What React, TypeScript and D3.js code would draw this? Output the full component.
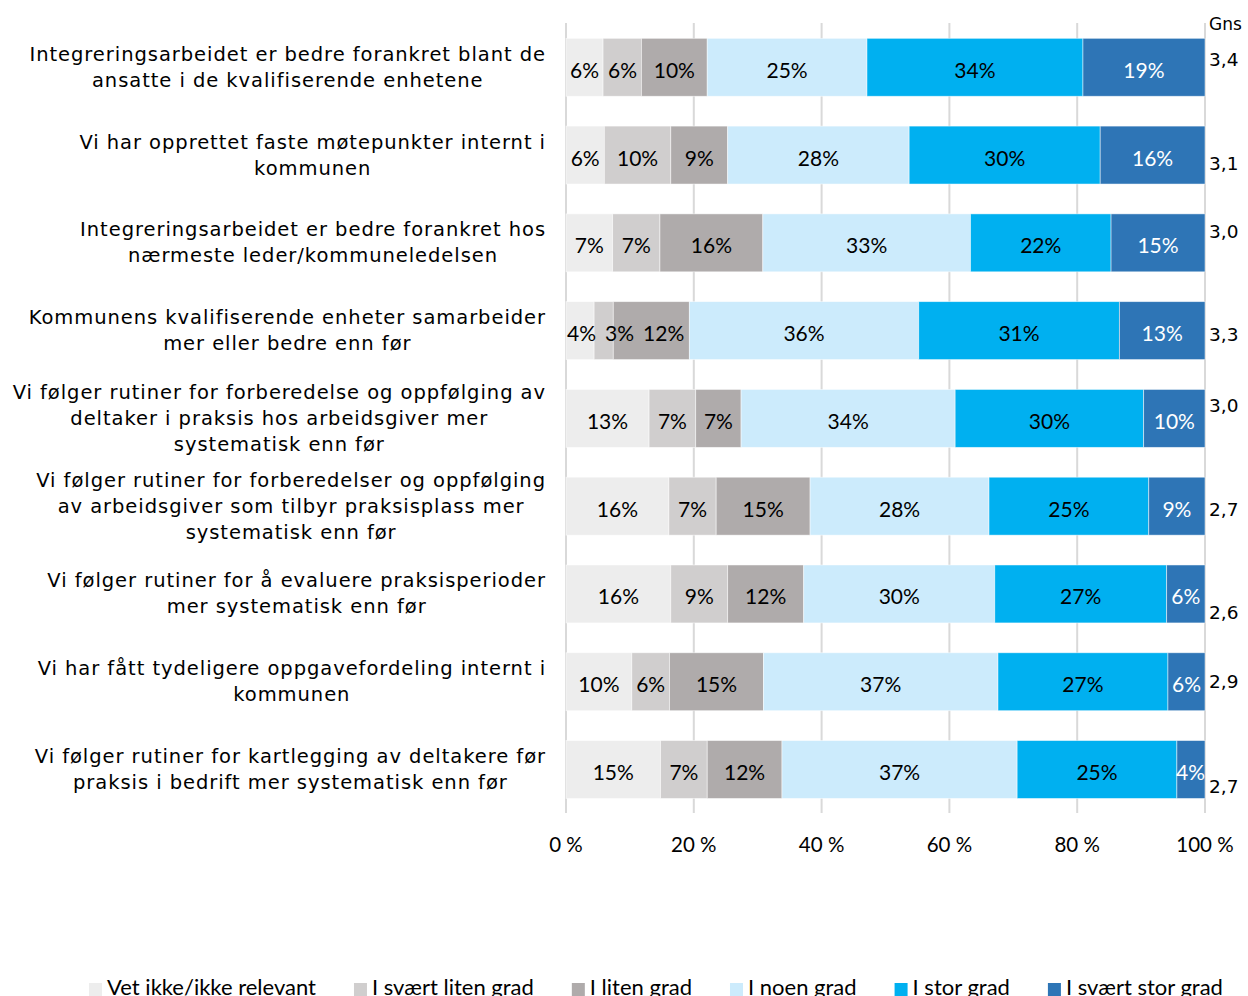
import React, { useEffect, useRef } from "react";
import * as d3 from "d3";

const categories: string[][] = [
  ["Integreringsarbeidet er bedre forankret blant de", "ansatte i de kvalifiserende enhetene"],
  ["Vi har opprettet faste møtepunkter internt i", "kommunen"],
  ["Integreringsarbeidet er bedre forankret hos", "nærmeste leder/kommuneledelsen"],
  ["Kommunens kvalifiserende enheter samarbeider", "mer eller bedre enn før"],
  ["Vi følger rutiner for forberedelse og oppfølging av", "deltaker i praksis hos arbeidsgiver mer", "systematisk enn før"],
  ["Vi følger rutiner for forberedelser og oppfølging", "av arbeidsgiver som tilbyr praksisplass mer", "systematisk enn før"],
  ["Vi følger rutiner for å evaluere praksisperioder", "mer systematisk enn før"],
  ["Vi har fått tydeligere oppgavefordeling internt i", "kommunen"],
  ["Vi følger rutiner for kartlegging av deltakere før", "praksis i bedrift mer systematisk enn før"],
];

const seriesNames = [
  "Vet ikke/ikke relevant",
  "I svært liten grad",
  "I liten grad",
  "I noen grad",
  "I stor grad",
  "I svært stor grad",
];

const vetIkke = [5.8, 6.0, 7.3, 4.4, 13.0, 16.1, 16.4, 10.3, 14.8];
const svaertLiten = [6.0, 10.4, 7.4, 3.0, 7.3, 7.4, 8.9, 5.9, 7.3];
const liten = [10.3, 8.9, 16.1, 11.9, 7.1, 14.7, 11.9, 14.7, 11.7];
const noen = [25.0, 28.4, 32.5, 35.9, 33.5, 28.0, 29.9, 36.7, 36.8];
const stor = [33.8, 29.9, 22.0, 31.4, 29.5, 25.0, 26.9, 26.6, 25.0];
const svaertStor = [19.1, 16.4, 14.7, 13.4, 9.6, 8.8, 6.0, 5.8, 4.4];

const gns = ["3,4", "3,1", "3,0", "3,3", "3,0", "2,7", "2,6", "2,9", "2,7"];
const gnsLabelShift = [-8, 8, -11, 4, -13, 3, 19, 0, 17];

const tickValues = [0, 20, 40, 60, 80, 100];

const colors = ["#EDEDED", "#D0CECE", "#AFABAB", "#CCEBFC", "#00B0F0", "#2E75B6"];
const labelColors = ["#000", "#000", "#000", "#000", "#000", "#fff"];

const W = 1248;
const H = 996;

export default function App() {
  const ref = useRef<SVGSVGElement | null>(null);

  useEffect(() => {
    const svg = d3.select(ref.current);
    svg.selectAll("*").remove();

    const seriesArrays = [vetIkke, svaertLiten, liten, noen, stor, svaertStor];
    const keys = seriesNames;
    const table = categories.map((_, i) => {
      const row: Record<string, number> = { idx: i };
      keys.forEach((k, s) => (row[k] = seriesArrays[s][i]));
      return row;
    });
    const stacked = d3.stack<Record<string, number>>().keys(keys)(table);

    const x = d3.scaleLinear().domain([0, 100]).range([566, 1205]);
    const y = d3
      .scaleBand<number>()
      .domain(categories.map((_, i) => i))
      .range([23.4, 813.4])
      .paddingInner(0.34)
      .paddingOuter(0.17);

    const labelFont = "'DejaVu Sans', Verdana, sans-serif";
    const numFont = "Lato, 'Open Sans', sans-serif";

    // gridlines
    svg
      .append("g")
      .selectAll("line")
      .data(tickValues)
      .join("line")
      .attr("x1", (d) => x(d))
      .attr("x2", (d) => x(d))
      .attr("y1", 23)
      .attr("y2", 813)
      .attr("stroke", "#D9D9D9")
      .attr("stroke-width", 2);

    // bars
    const g = svg.append("g");
    stacked.forEach((layer, s) => {
      g.append("g")
        .selectAll("rect")
        .data(layer)
        .join("rect")
        .attr("x", (d) => x(d[0]))
        .attr("width", (d) => x(d[1]) - x(d[0]))
        .attr("y", (d) => y(d.data.idx)!)
        .attr("height", y.bandwidth())
        .attr("fill", colors[s])
        .attr("stroke", "#fff")
        .attr("stroke-opacity", 0.6)
        .attr("stroke-width", 0.8);
    });

    // value labels, with left-to-right overlap avoidance per row
    const lblG = g.append("g");
    categories.forEach((_, i) => {
      let prevRight = -Infinity;
      stacked.forEach((layer, s) => {
        const d = layer[i];
        const cx = (x(d[0]) + x(d[1])) / 2;
        const t = lblG
          .append("text")
          .attr("x", cx)
          .attr("y", y(i)! + y.bandwidth() / 2 + 2)
          .attr("text-anchor", "middle")
          .attr("dominant-baseline", "central")
          .attr("font-family", numFont)
          .attr("font-size", 21)
          .attr("fill", labelColors[s])
          .text(`${Math.round(d[1] - d[0])}%`);
        const w = (t.node() as SVGTextElement).getComputedTextLength();
        let left = cx - w / 2;
        const minLeft = Math.max(prevRight + 9, x(0) + 1);
        if (left < minLeft) left = minLeft;
        const maxRight = x(100);
        if (left + w > maxRight && s === stacked.length - 1) left = maxRight - w;
        t.attr("x", left + w / 2);
        prevRight = left + w;
      });
    });

    // category labels
    const catG = svg.append("g");
    const lineH = 26;
    categories.forEach((lines, i) => {
      const cy = y(i)! + y.bandwidth() / 2;
      const t = catG
        .append("text")
        .attr("font-family", labelFont)
        .attr("font-size", 19.5)
        .attr("letter-spacing", 0.95)
        .attr("fill", "#000")
        .attr("text-anchor", "middle");
      const tspans = lines.map((ln, j) =>
        t
          .append("tspan")
          .attr("y", cy + (j - (lines.length - 1) / 2) * lineH)
          .attr("dominant-baseline", "central")
          .text(ln)
      );
      let maxW = 0;
      tspans.forEach((ts) => {
        const node = ts.node() as SVGTSpanElement;
        maxW = Math.max(maxW, node.getComputedTextLength());
      });
      const cx = 546 - maxW / 2;
      tspans.forEach((ts) => ts.attr("x", cx));
    });

    // axis tick labels
    svg
      .append("g")
      .selectAll("text")
      .data(tickValues)
      .join("text")
      .attr("x", (d) => x(d))
      .attr("y", 852)
      .attr("text-anchor", "middle")
      .attr("font-family", numFont)
      .attr("font-size", 20.5)
      .attr("fill", "#000")
      .text((d) => `${d} %`);

    // Gns
    svg
      .append("text")
      .attr("x", 1209)
      .attr("y", 30)
      .attr("font-family", labelFont)
      .attr("font-size", 17)
      .attr("fill", "#000")
      .text("Gns");
    svg
      .append("g")
      .selectAll("text")
      .data(gns)
      .join("text")
      .attr("x", 1209)
      .attr("y", (_, i) => y(i)! + y.bandwidth() / 2 + gnsLabelShift[i])
      .attr("dominant-baseline", "central")
      .attr("font-family", labelFont)
      .attr("font-size", 18.5)
      .attr("fill", "#000")
      .text((d) => d);

    // legend
    const leg = svg.append("g");
    const items = seriesNames.map((name, s) => {
      const gi = leg.append("g");
      gi.append("rect").attr("x", 0).attr("y", 983).attr("width", 13).attr("height", 13).attr("fill", colors[s]);
      const tx = gi
        .append("text")
        .attr("x", 18)
        .attr("y", 995)
        .attr("font-family", numFont)
        .attr("font-size", 22)
        .attr("fill", "#000")
        .text(name);
      const w = (tx.node() as SVGTextElement).getComputedTextLength();
      return { gi, w: 18 + w };
    });
    const gap = 38;
    const total = items.reduce((a, b) => a + b.w, 0) + gap * (items.length - 1);
    let cur = 656 - total / 2;
    items.forEach((it) => {
      it.gi.attr("transform", `translate(${cur},0)`);
      cur += it.w + gap;
    });
  }, []);

  return (
    <svg
      ref={ref}
      width={W}
      height={H}
      style={{ position: "absolute", left: 0, top: 0, display: "block", background: "#fff" }}
    />
  );
}
